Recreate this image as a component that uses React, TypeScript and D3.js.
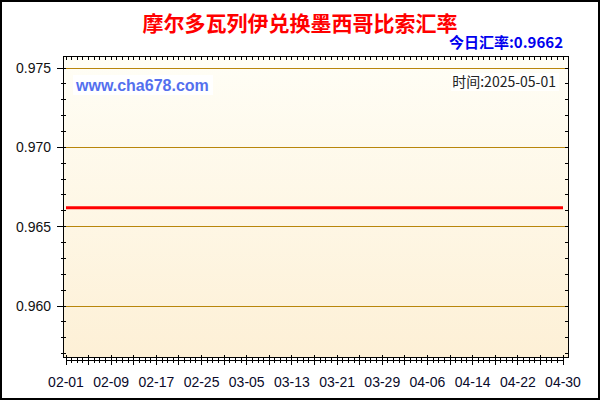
import * as d3 from "d3";

const titleText = "摩尔多瓦列伊兑换墨西哥比索汇率";
const rateLabel = "今日汇率:0.9662";
const siteLabel = "www.cha678.com";
const timeLabel = "时间:2025-05-01";

// x tick labels (every 8 days)
const tickLabels = ["02-01", "02-09", "02-17", "02-25", "03-05", "03-13", "03-21", "03-29", "04-06", "04-14", "04-22", "04-30"];
// y tick labels
const yTicks = [0.960, 0.965, 0.970, 0.975];

// rate series (flat line)
const rateDates = ["2025-02-01", "2025-02-09", "2025-02-17", "2025-02-25", "2025-03-05", "2025-03-13", "2025-03-21", "2025-03-29", "2025-04-06", "2025-04-14", "2025-04-22", "2025-04-30"];
const rateValues = [0.9662, 0.9662, 0.9662, 0.9662, 0.9662, 0.9662, 0.9662, 0.9662, 0.9662, 0.9662, 0.9662, 0.9662];

const W = 600, H = 400;
const box = { left: 63, right: 568, top: 56, bottom: 357 };
const cjk = "'Noto Sans CJK SC', 'Liberation Sans', sans-serif";
const sans = "'Liberation Sans', Arial, sans-serif";

export default function App() {
    const parse = d3.utcParse("%Y-%m-%d");
    const start = parse("2025-02-01");
    const end = parse("2025-04-30");

    const xScale = d3.scaleUtc().domain([start, end]).range([66, 563]);
    const yScale = d3.scaleLinear().domain([0.95679, 0.97576]).range([box.bottom, box.top]);

    const days = d3.utcDay.range(start, d3.utcDay.offset(end, 1));
    const minorY = d3.range(957, 976).map(v => v / 1000);

    const points = rateDates.map((d, i) => ({ date: parse(d), value: rateValues[i] }));
    const lineBuilder = d3.line<any>()
        .x(d => xScale(d.date))
        .y(d => yScale(d.value));

    const axisY = 360;

    return (
        <svg width={W} height={H} style={{ position: "absolute", left: 0, top: 0, display: "block" }}>
            <defs>
                <linearGradient id="bg" x1="0" y1="0" x2="0" y2="1">
                    <stop offset="0%" stopColor="#fffef6" />
                    <stop offset="100%" stopColor="#fdf0d6" />
                </linearGradient>
            </defs>
            <rect x={0} y={0} width={W} height={H} fill="#fff" />
            <rect x={1} y={1} width={W - 2} height={H - 2} fill="none" stroke="#000" strokeWidth={2} />

            {/* title */}
            <text x={300} y={31} textAnchor="middle" fill="#ff0000" fontWeight="bold" fontSize={21} fontFamily={cjk}>{titleText}</text>
            <text x={563} y={48} textAnchor="end" fill="#0000ee" fontWeight="bold" fontSize={15} fontFamily={cjk}>{rateLabel}</text>

            {/* plot area */}
            <rect x={box.left} y={box.top} width={box.right - box.left} height={box.bottom - box.top} fill="url(#bg)" stroke="#000" strokeWidth={1} shapeRendering="crispEdges" />

            {/* grid */}
            {yTicks.map(t => (
                <line key={"g" + t} x1={box.left} x2={box.right} y1={yScale(t)} y2={yScale(t)} stroke="#b8860b" strokeWidth={1} shapeRendering="crispEdges" />
            ))}

            {/* watermark texts */}
            <rect x={73} y={75} width={140} height={20} fill="#fff" />
            <text x={76} y={91} fill="#5470ee" fontWeight="bold" fontSize={16} fontFamily={sans}>{siteLabel}</text>
            <rect x={451} y={73} width={108} height={18} fill="#fff" opacity={0.8} />
            <text x={556} y={87} textAnchor="end" fill="#222" fontSize={14} fontFamily={cjk}>{timeLabel}</text>

            {/* rate line */}
            <path d={lineBuilder(points)} fill="none" stroke="#ff0000" strokeWidth={3} />

            {/* y ticks */}
            {minorY.map(t => (
                <g key={"ym" + t} shapeRendering="crispEdges" stroke="#000">
                    <line x1={box.left - 2} x2={box.left + 3} y1={yScale(t)} y2={yScale(t)} />
                    <line x1={box.right - 3} x2={box.right} y1={yScale(t)} y2={yScale(t)} />
                </g>
            ))}
            {yTicks.map(t => (
                <g key={"yt" + t}>
                    <line x1={box.left - 6} x2={box.left} y1={yScale(t)} y2={yScale(t)} stroke="#000" shapeRendering="crispEdges" />
                    <text x={51} y={yScale(t)} dy="0.35em" textAnchor="end" fill="#111" fontSize={14} fontFamily={sans}>{d3.format(".3f")(t)}</text>
                </g>
            ))}

            {/* top day ticks */}
            {days.map((d, i) => (
                <line key={"tt" + i} x1={xScale(d)} x2={xScale(d)} y1={box.top} y2={box.top + 4} stroke="#000" shapeRendering="crispEdges" />
            ))}

            {/* x axis */}
            <line x1={xScale(start)} x2={xScale(end)} y1={axisY} y2={axisY} stroke="#000" shapeRendering="crispEdges" />
            {days.map((d, i) => (
                <line key={"xt" + i} x1={xScale(d)} x2={xScale(d)}
                    y1={i % 4 === 0 ? axisY - 5 : axisY - 2} y2={i % 4 === 0 ? axisY + 5 : axisY + 3}
                    stroke="#000" shapeRendering="crispEdges" />
            ))}
            {tickLabels.map((l, i) => (
                <text key={"xl" + l} x={xScale(parse("2025-" + l))} y={387} textAnchor="middle" fill="#0a0a2a" fontSize={14} fontFamily={sans}>{l}</text>
            ))}
        </svg>
    );
}
